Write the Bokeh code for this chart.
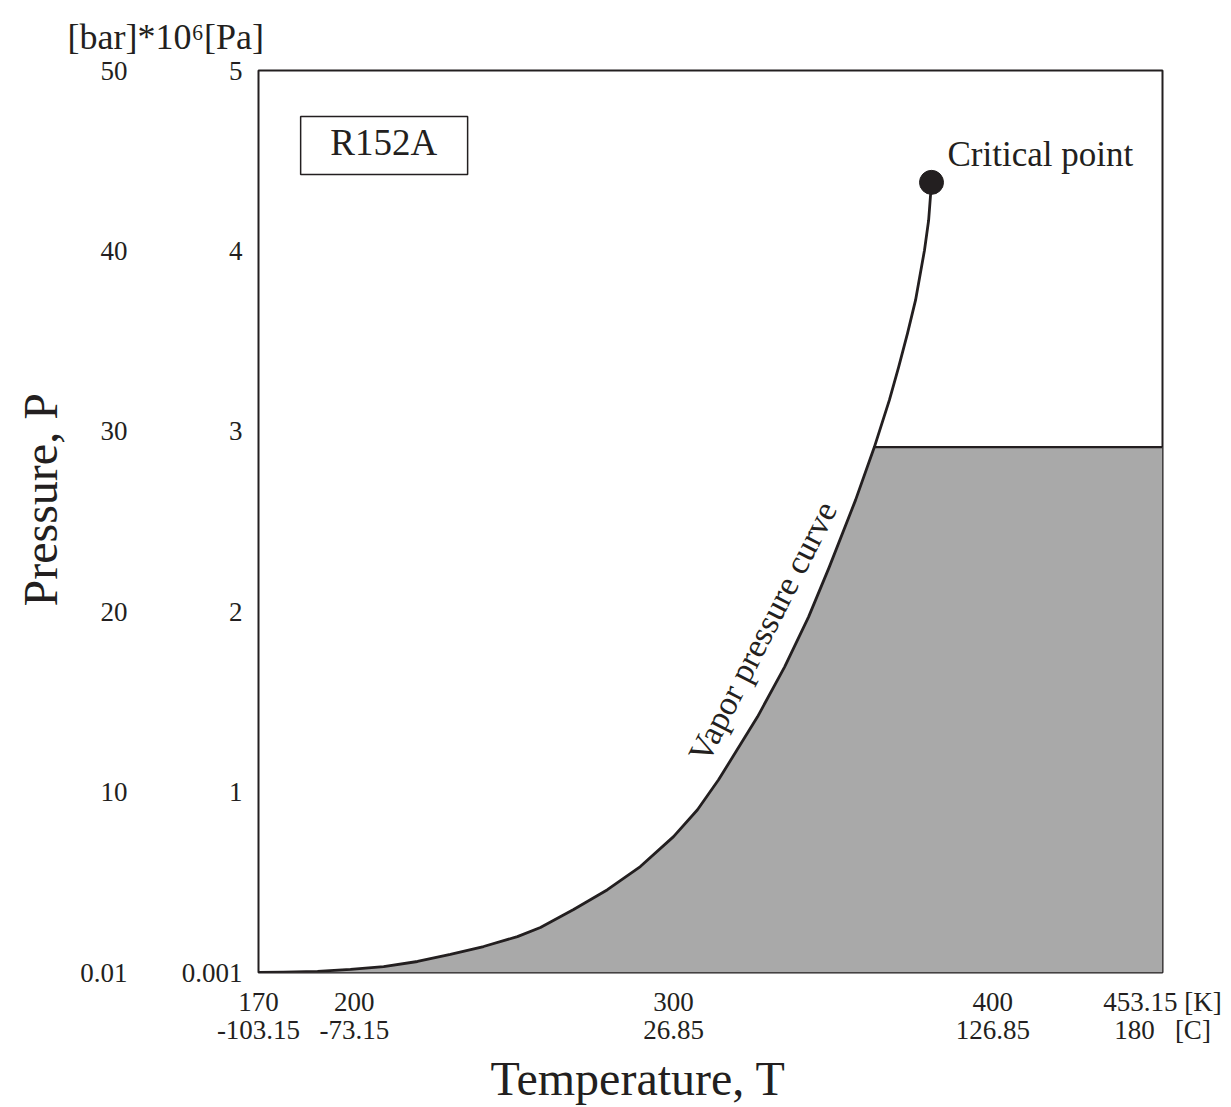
import math
from bokeh.plotting import figure
from bokeh.models import LinearAxis, FixedTicker, Range1d, Label, BoxAnnotation, Title
from bokeh.embed import file_html
from bokeh.resources import INLINE

# ---- data ----
temperature_K = [170.0, 177.8, 188.5, 198.8, 209.2, 219.8, 230.1, 240.5, 251.1, 258.3,
                 268.7, 279.3, 289.6, 300.0, 307.5, 314.1, 326.3, 334.8, 342.3, 348.8,
                 357.0, 362.9, 367.6, 370.5, 373.3, 375.8, 378.6, 379.9]
pressure_MPa = [0.001, 0.003, 0.007, 0.018, 0.034, 0.062, 0.101, 0.145, 0.200, 0.250,
                0.350, 0.460, 0.588, 0.754, 0.903, 1.069, 1.418, 1.695, 1.972, 2.249,
                2.619, 2.913, 3.173, 3.356, 3.544, 3.727, 4.004, 4.170]
critical_T = 380.8
critical_P = 4.380
region_P = 2.913          # top of the shaded (liquid) region

T_ticks = [170, 200, 300, 400, 453.15]
K_labels = ["170", "200", "300", "400", "453.15 [K]"]
C_labels = ["-103.15", "-73.15", "26.85", "126.85", "180\u00a0\u00a0\u00a0[C]"]
P_ticks = [0.001, 1, 2, 3, 4, 5]
MPa_labels = ["0.001", "1", "2", "3", "4", "5"]
bar_labels = ["0.01", "10", "20", "30", "40", "50"]

INK = "#231f20"
FONT = "Liberation Serif"
GREY = "#a9a9a9"

p = figure(width=1231, height=1107,
           x_range=Range1d(T_ticks[0], T_ticks[-1]), y_range=Range1d(P_ticks[0], P_ticks[-1]),
           x_axis_type=None, y_axis_type=None,
           toolbar_location=None, output_backend="svg",
           min_border_left=258, min_border_right=69, min_border_top=70, min_border_bottom=134)
p.background_fill_color = "white"
p.border_fill_color = "white"
p.outline_line_color = INK
p.outline_line_width = 2
p.outline_line_alpha = 1.0

# shaded region under the vapour pressure curve, capped at region_P
k = pressure_MPa.index(region_P)
fill_T = temperature_K[:k + 1] + [T_ticks[-1]]
fill_P = pressure_MPa[:k + 1] + [region_P]
p.varea(x=fill_T, y1=P_ticks[0], y2=fill_P, fill_color=GREY, fill_alpha=1.0)
p.line([temperature_K[k], T_ticks[-1]], [region_P, region_P], line_color=INK, line_width=2.2)

# vapour pressure curve and critical point
p.line(temperature_K + [critical_T], pressure_MPa + [critical_P], line_color=INK,
       line_width=2.8, line_join="round")
p.scatter([critical_T], [critical_P], size=24, fill_color=INK, line_color=INK)


def make_axis(ticks, labels, standoff):
    return LinearAxis(
        ticker=FixedTicker(ticks=ticks, minor_ticks=[]),
        major_label_overrides={t: l for t, l in zip(ticks, labels)},
        axis_line_color=None, major_tick_line_color=None, minor_tick_line_color=None,
        major_tick_in=0, major_tick_out=0, major_label_standoff=standoff,
        major_label_text_font=FONT, major_label_text_font_size="27px",
        major_label_text_color=INK)


p.add_layout(make_axis(P_ticks, MPa_labels, 16), "left")
p.add_layout(make_axis(P_ticks, bar_labels, 51), "left")
p.add_layout(make_axis(T_ticks, K_labels, 14), "below")
p.add_layout(make_axis(T_ticks, C_labels, -5), "below")


def make_title(text, size, offset, standoff):
    return Title(text=text, text_font=FONT, text_font_size=size, text_font_style="normal",
                 text_color=INK, align="left", offset=offset, standoff=standoff)


# axis titles and unit header
p.add_layout(make_title("Temperature, T", "48px", 232, 5), "below")
p.add_layout(make_title("Pressure, P", "48px", 366, 22), "left")
p.add_layout(make_title("[bar]*10\u2076[Pa]", "36px", -191, 28), "above")


def add_text(text, x, y, size, align="left", angle=0.0):
    p.add_layout(Label(x=x, y=y, text=text, text_font=FONT, text_font_size=size,
                       text_color=INK, text_align=align, text_baseline="middle",
                       angle=angle))


# annotations inside the plot
add_text("Critical point", 385.8, 4.532, "35px")
add_text("Vapor pressure curve", 327.9, 1.890, "34px", align="center", angle=math.radians(63))
p.add_layout(BoxAnnotation(left=183.2, right=235.5, bottom=4.424, top=4.745,
                           fill_color=None, line_color=INK, line_width=1.5, line_alpha=1.0))
add_text("R152A", 209.2, 4.599, "37px", align="center")

open("out.html", "w").write(file_html(p, INLINE))
